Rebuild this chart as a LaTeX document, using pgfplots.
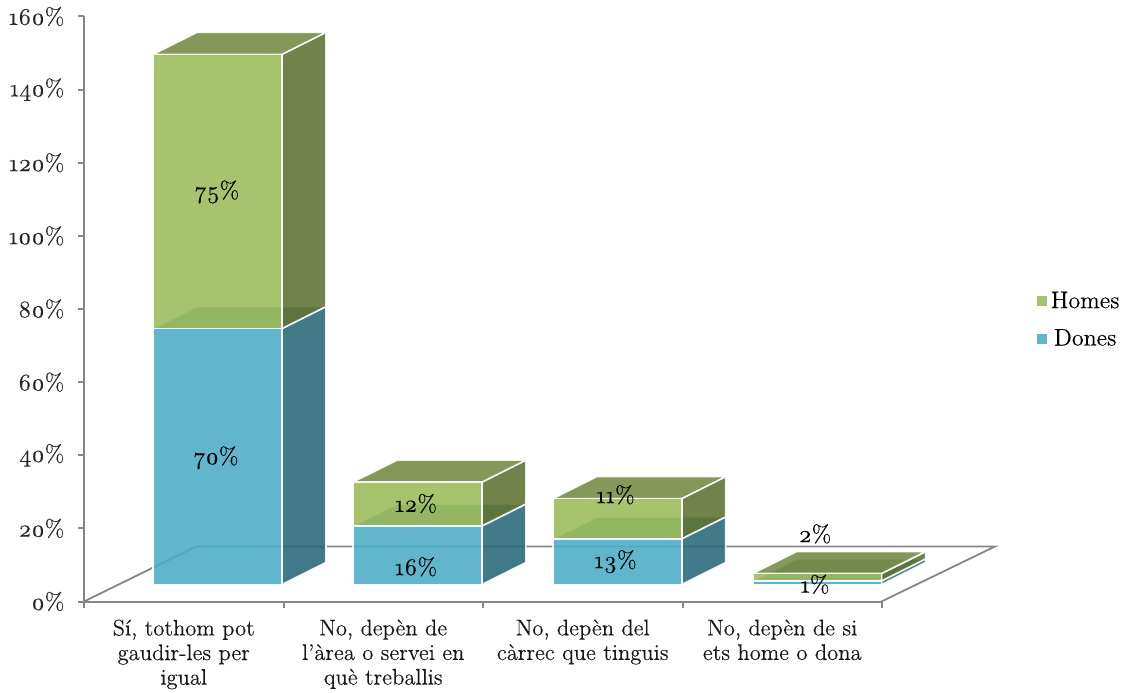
\documentclass[border=0pt]{standalone}
\usepackage{fontspec}
\setmainfont{Latin Modern Roman}[Numbers=OldStyle,FakeBold=0.25,AutoFakeBold=0.25]
\usepackage{pgfplots}
\pgfplotsset{compat=1.18}

\definecolor{axisgray}{RGB}{134,134,134}
\definecolor{blue1}{RGB}{75,172,198}
\definecolor{green1}{RGB}{155,187,89}
\definecolor{blueside}{RGB}{40,104,122}
\definecolor{greenside}{RGB}{93,113,50}
\definecolor{bluetop}{RGB}{62,137,140}
\definecolor{greentop}{RGB}{117,138,66}

\newcommand{\labelfont}{\fontsize{12}{12.3}\selectfont\addfontfeature{FakeBold=0.2}}
\newcommand{\catfont}{\fontsize{11.3}{12.3}\selectfont\addfontfeature{FakeBold=0.2}}

% one parallelogram of a box, in axis units
\newcommand{\face}[2]{\addplot[fill=#1,fill opacity=0.88,draw=white,draw opacity=0.9,line width=0.8pt,line join=round] coordinates {#2};}

\pgfplotsset{
    common/.style={
        scale only axis,
        width=399pt,
        height=292.5pt,
        xmin=0, xmax=4,
        ymin=0, ymax=160,
        clip=false,
    },
}

\begin{document}
\begin{tikzpicture}
\useasboundingbox (-42pt,-45.25pt) rectangle (522.5pt,300.75pt);

% floor, side faces and top faces
\begin{axis}[
    common,
    axis lines=left,
    axis line style={-,axisgray,line width=1pt},
    tick style={axisgray,line width=1pt},
    tick align=outside,
    major tick length=3pt,
    ytick={0,20,...,160},
    yticklabel={\pgfmathprintnumber{\tick}\%},
    /pgf/number format/assume math mode=true,
    xtick={0,1,2,3,4},
    xticklabels={},
    extra x ticks={0.5,1.5,2.5,3.5},
    extra x tick labels={{Sí, tothom pot\\gaudir-les per\\igual},{No, depèn de\\l’àrea o servei en\\què treballis},{No, depèn del\\càrrec que tinguis},{No, depèn de si\\ets home o dona}},
    extra x tick style={major tick length=0pt},
    x tick label style={align=center,font=\catfont,text=black!90,yshift=-5.5pt},
    y tick label style={font=\labelfont,text=black!85,xshift=-3.3pt},
]
\addplot[axisgray,line width=0.9pt] coordinates {(0,0) (0.5614,15.04) (4.566,15.04) (3.997,0)};

% Dones
\face{bluetop}{(0.346,74.65) (0.567,80.67) (1.213,80.67) (0.992,74.65) (0.346,74.65)}
\face{blueside}{(0.992,4.65) (1.213,10.67) (1.213,80.67) (0.992,74.65) (0.992,4.65)}
\face{bluetop}{(1.348,20.65) (1.569,26.67) (2.215,26.67) (1.994,20.65) (1.348,20.65)}
\face{blueside}{(1.994,4.65) (2.215,10.67) (2.215,26.67) (1.994,20.65) (1.994,4.65)}
\face{bluetop}{(2.350,17.15) (2.571,23.17) (3.217,23.17) (2.996,17.15) (2.350,17.15)}
\face{blueside}{(2.996,4.65) (3.217,10.67) (3.217,23.17) (2.996,17.15) (2.996,4.65)}
\face{bluetop}{(3.352,5.65) (3.573,11.67) (4.219,11.67) (3.998,5.65) (3.352,5.65)}
\face{blueside}{(3.998,4.65) (4.219,10.67) (4.219,11.67) (3.998,5.65) (3.998,4.65)}

% Homes
\face{greenside}{(0.992,74.65) (1.213,80.67) (1.213,155.67) (0.992,149.65) (0.992,74.65)}
\face{greentop}{(0.346,149.65) (0.567,155.67) (1.213,155.67) (0.992,149.65) (0.346,149.65)}
\face{greenside}{(1.994,20.65) (2.215,26.67) (2.215,38.67) (1.994,32.65) (1.994,20.65)}
\face{greentop}{(1.348,32.65) (1.569,38.67) (2.215,38.67) (1.994,32.65) (1.348,32.65)}
\face{greenside}{(2.996,17.15) (3.217,23.17) (3.217,34.17) (2.996,28.15) (2.996,17.15)}
\face{greentop}{(2.350,28.15) (2.571,34.17) (3.217,34.17) (2.996,28.15) (2.350,28.15)}
\face{greenside}{(3.998,5.65) (4.219,11.67) (4.219,13.67) (3.998,7.65) (3.998,5.65)}
\face{greentop}{(3.352,7.65) (3.573,13.67) (4.219,13.67) (3.998,7.65) (3.352,7.65)}
\end{axis}

% front faces: the stack starts above the front edge of the floor
\begin{axis}[
    common,
    hide axis,
    ybar stacked,
    bar width=0.646,
    legend image code/.code={\fill[#1,draw=none] (0pt,-2.5pt) rectangle (5pt,2.5pt);},
    reverse legend,
    legend style={draw=none,fill=none,at={(1.186,0.481)},anchor=west,
        font=\labelfont,row sep=5pt,
        /tikz/every even column/.append style={column sep=0pt}},
]
\addplot[draw=none,fill=none,forget plot] coordinates {(0.669,4.65) (1.671,4.65) (2.673,4.65) (3.675,4.65)};
\addplot[fill=blue1,fill opacity=0.88,draw=white,draw opacity=0.9,line width=0.8pt] coordinates {(0.669,70) (1.671,16) (2.673,12.5) (3.675,1)};
\addlegendentry{Dones}
\addplot[fill=green1,fill opacity=0.88,draw=white,draw opacity=0.9,line width=0.8pt] coordinates {(0.669,75) (1.671,12) (2.673,11) (3.675,2)};
\addlegendentry{Homes}
\end{axis}

% data labels, where the reference puts them
\begin{axis}[common,hide axis]
\addplot[draw=none,mark=none,nodes near coords,point meta=explicit symbolic,
    nodes near coords align={anchor=center},
    every node near coord/.append style={font=\labelfont,text=black}]
    coordinates {
    (0.667,112) [75\%]
    (0.662,39.3) [70\%]
    (1.664,26.8) [12\%]
    (1.664,9.5) [16\%]
    (2.664,10.9) [13\%]
    (2.664,29.2) [11\%]
    (3.664,18.5) [2\%]
    (3.664,4.7) [1\%]
};
\end{axis}
\end{tikzpicture}
\end{document}
